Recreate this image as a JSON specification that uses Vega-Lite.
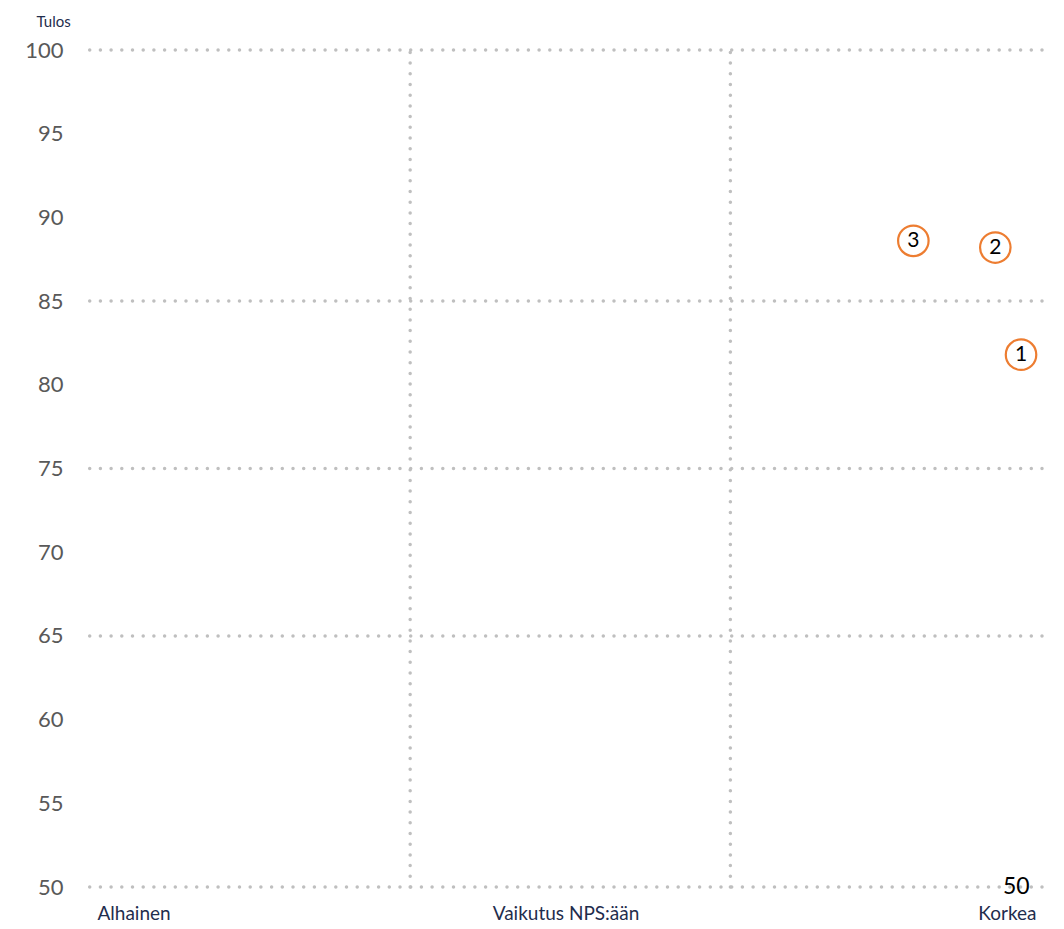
{
  "$schema": "https://vega.github.io/schema/vega-lite/v6.json",
  "autosize": "none",
  "width": 953,
  "height": 837,
  "padding": {"left": 89, "top": 50, "right": 22, "bottom": 42},
  "background": "white",
  "config": {"view": {"stroke": null}, "font": "Lato"},
  "datasets": {
    "points": [
      {"x": 97.8, "y": 81.8, "label": "1"},
      {"x": 95.1, "y": 88.2, "label": "2"},
      {"x": 86.5, "y": 88.6, "label": "3"}
    ],
    "hgrid": [{"y": 50}, {"y": 65}, {"y": 75}, {"y": 85}, {"y": 100}],
    "vgrid": [{"x": 33.7}, {"x": 67.3}],
    "stray": [{"x": 97.3, "y": 50, "label": "50"}]
  },
  "layer": [
    {
      "data": {"name": "hgrid"},
      "mark": {"type": "rule", "color": "#BFBFBF", "strokeWidth": 3.5, "strokeDash": [0, 10.7], "strokeCap": "round"},
      "encoding": {
        "y": {"field": "y", "type": "quantitative", "scale": {"domain": [50, 100]},
          "axis": {"values": [50,55,60,65,70,75,80,85,90,95,100], "grid": false, "domain": false, "ticks": false,
            "labelFontSize": 22, "labelColor": "#595959", "labelPadding": 26, "labelFont": "Lato",
            "title": "Tulos", "titleAngle": 0, "titleAlign": "left", "titleBaseline": "alphabetic",
            "titleX": -53, "titleY": -24, "titleFontSize": 15, "titleFontWeight": "normal", "titleColor": "#1F2D4D", "titleFont": "Lato"}}
      }
    },
    {
      "data": {"name": "vgrid"},
      "mark": {"type": "rule", "color": "#BFBFBF", "strokeWidth": 3.5, "strokeDash": [0, 10.7], "strokeCap": "round"},
      "encoding": {
        "x": {"field": "x", "type": "quantitative", "scale": {"domain": [0, 100]},
          "axis": {"values": [0, 50, 100], "grid": false, "domain": false, "ticks": false, "title": null,
            "labelExpr": "datum.value == 0 ? 'Alhainen' : datum.value == 50 ? 'Vaikutus NPS:ään' : 'Korkea'",
            "labelAlign": {"expr": "datum.value == 0 ? 'left' : datum.value == 100 ? 'right' : 'center'"},
            "labelOffset": {"expr": "datum.value == 0 ? 8 : datum.value == 100 ? -6 : 0"},
            "labelFontSize": 19, "labelColor": "#1F2D4D", "labelPadding": 17, "labelFont": "Lato", "labelOverlap": false}},
        "y": {"datum": 50, "type": "quantitative"},
        "y2": {"datum": 100}
      }
    },
    {
      "data": {"name": "points"},
      "mark": {"type": "point", "shape": "circle", "size": 930, "filled": false, "fill": "white", "fillOpacity": 1, "stroke": "#ED7D31", "strokeWidth": 2.2, "opacity": 1},
      "encoding": {
        "x": {"field": "x", "type": "quantitative"},
        "y": {"field": "y", "type": "quantitative"}
      }
    },
    {
      "data": {"name": "points"},
      "mark": {"type": "text", "fontSize": 21, "color": "#000000", "font": "Lato", "baseline": "middle", "align": "center"},
      "encoding": {
        "x": {"field": "x", "type": "quantitative"},
        "y": {"field": "y", "type": "quantitative"},
        "text": {"field": "label"}
      }
    },
    {
      "data": {"name": "stray"},
      "mark": {"type": "text", "fontSize": 23, "color": "#000000", "font": "Lato", "baseline": "middle", "align": "center", "clip": false},
      "encoding": {
        "x": {"field": "x", "type": "quantitative"},
        "y": {"field": "y", "type": "quantitative"},
        "text": {"field": "label"}
      }
    }
  ]
}
